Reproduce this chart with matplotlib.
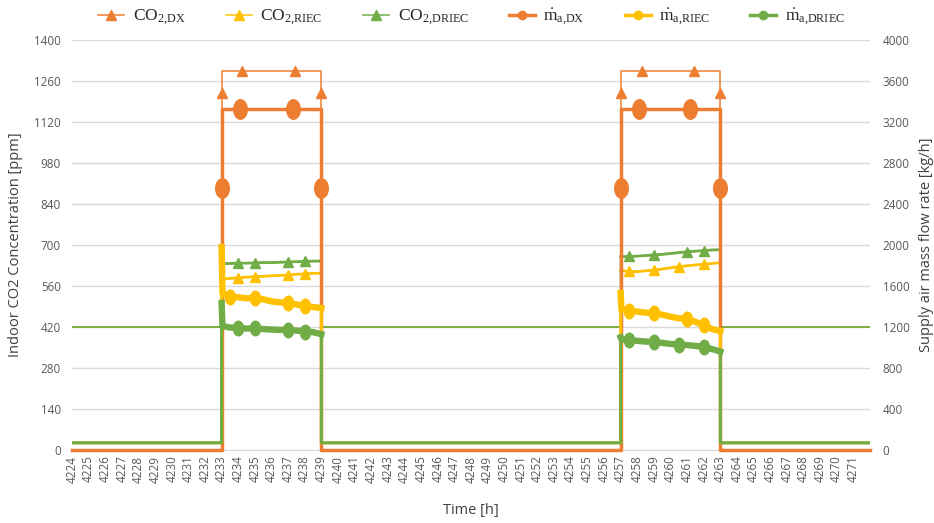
# Indoor CO2 concentration and supply air mass flow rate, DX vs RIEC vs DRIEC
import matplotlib.pyplot as plt
from matplotlib.lines import Line2D
from matplotlib.path import Path

plt.rcParams['font.family'] = ['Open Sans', 'DejaVu Sans']
plt.rcParams['mathtext.fontset'] = 'custom'
plt.rcParams['mathtext.rm'] = 'Liberation Serif'
plt.rcParams['mathtext.it'] = 'Liberation Serif:italic'
plt.rcParams['mathtext.bf'] = 'Liberation Serif:bold'

hours = list(range(4224, 4272))

# occupied periods, sampled every half hour (plus one point right after start-up)
occ1 = [4233.0, 4233.05, 4233.5, 4234.0, 4234.5, 4235.0, 4235.5, 4236.0,
        4236.5, 4237.0, 4237.5, 4238.0, 4238.5, 4239.0]
occ2 = [4257.0, 4257.05, 4257.5, 4258.0, 4258.5, 4259.0, 4259.5, 4260.0,
        4260.5, 4261.0, 4261.5, 4262.0, 4262.5, 4263.0]
time = [4224, 4233] + occ1 + [4239, 4257] + occ2 + [4263, 4272]

# CO2 [ppm]
co2_off = 420
co2_riec_1 = [584, 584, 586, 588, 590, 592, 593, 595, 596, 598, 600, 601, 603, 604]
co2_riec_2 = [612, 612, 610, 609, 612, 614, 618, 622, 626, 629, 632, 634, 637, 639]
co2_driec_1 = [636, 636, 637, 638, 638, 639, 640, 640, 641, 642, 643, 644, 645, 645]
co2_driec_2 = [660, 660, 661, 662, 664, 666, 668, 671, 674, 677, 679, 681, 683, 684]

# supply air mass flow [kg/h]
m_off = 70
m_riec_1 = [1980, 1530, 1495, 1490, 1480, 1483, 1470, 1450, 1440, 1434, 1420, 1405, 1395, 1385]
m_riec_2 = [1532, 1370, 1360, 1350, 1340, 1337, 1320, 1300, 1285, 1278, 1250, 1215, 1180, 1160]
m_driec_1 = [1434, 1210, 1195, 1190, 1185, 1188, 1180, 1175, 1172, 1170, 1165, 1155, 1150, 1130]
m_driec_2 = [1100, 1080, 1073, 1065, 1058, 1054, 1045, 1035, 1028, 1024, 1015, 1005, 985, 960]

# DX system: on/off with constant level
dx_time = [4224, 4233, 4233, 4233, 4234.1, 4237.3, 4239, 4239, 4239,
           4257, 4257, 4257, 4258.1, 4261.2, 4263, 4263, 4263, 4272]
co2_dx = [420, 420, 1220, 1295, 1295, 1295, 1295, 1220, 420,
          420, 1220, 1295, 1295, 1295, 1295, 1220, 420, 420]
dx_time_co2 = [4224, 4233, 4233, 4233, 4234.25, 4237.4, 4239, 4239, 4239,
               4257, 4257, 4257, 4258.3, 4261.4, 4263, 4263, 4263, 4272]
m_dx = [0, 0, 2560, 3330, 3330, 3330, 3330, 2560, 0,
        0, 2560, 3330, 3330, 3330, 3330, 2560, 0, 0]


def full(off, p1, p2):
    return [off, off] + p1 + [off, off] + p2 + [off, off]


co2_riec = full(co2_off, co2_riec_1, co2_riec_2)
co2_driec = full(co2_off, co2_driec_1, co2_driec_2)
m_riec = full(m_off, m_riec_1, m_riec_2)
m_driec = full(m_off, m_driec_1, m_driec_2)

orange = '#ED7D31'
yellow = '#FFC000'
green = '#70AD47'
grid = '#D9D9D9'
tick_c = '#595959'
label_c = '#404040'

ell = Path.unit_circle()
ellipse = Path(ell.vertices * [0.7, 1.0], ell.codes)

fig = plt.figure(figsize=(9.34, 5.23), dpi=100)
ax = fig.add_axes([72 / 934, 1 - 450 / 523, 798 / 934, 410 / 523])
ax2 = ax.twinx()

# occupied slices (indices into the full arrays)
s1 = slice(2, 16)
s2 = slice(18, 32)

# left axis: CO2
ax.plot(dx_time_co2, co2_dx, color=orange, lw=1.1, marker='^', ms=7,
        markevery=[2, 4, 5, 7, 10, 12, 13, 15])
for col, y, mk, lw in [(yellow, co2_riec, [5, 7, 11, 13, 20, 23, 26, 29], 0.9),
                       (green, co2_driec, [5, 7, 11, 13, 20, 23, 27, 29], 1.3)]:
    for s in (s1, s2):
        ax.plot(time[s], y[s], color=col, lw=2.0)
    ax.plot(time, y, color=col, lw=lw, marker='^', ms=7, markevery=mk)

# right axis: mass flow rate
ax2.plot(dx_time, m_dx, color=orange, lw=2.5, marker=ellipse, ms=14,
         markevery=[2, 4, 5, 7, 10, 12, 13, 15], clip_on=False)
for col, y, mk in [(yellow, m_riec, [4, 7, 11, 13, 20, 23, 27, 29]),
                   (green, m_driec, [5, 7, 11, 13, 20, 23, 26, 29])]:
    for s in (s1, s2):
        ax2.plot(time[s], y[s], color=col, lw=4.6)
    ax2.plot(time, y, color=col, lw=2.2, marker=ellipse, ms=10.5, markevery=mk)

ax.set_xlim(4224, 4272)
ax.set_ylim(0, 1400)
ax2.set_ylim(0, 4000)
ax.set_yticks(range(0, 1401, 140))
ax2.set_yticks(range(0, 4001, 400))
ax.set_xticks(hours)
ax.set_xticklabels([str(h) for h in hours], rotation=90)

ax.grid(axis='y', color=grid, lw=1.0)
ax.set_axisbelow(True)
for a in (ax, ax2):
    for sp in a.spines.values():
        sp.set_visible(False)
    a.tick_params(length=0, colors=tick_c, labelsize=8.4)
ax.spines['bottom'].set_visible(True)
ax.spines['bottom'].set_color(grid)
ax.tick_params(axis='y', pad=8)
ax2.tick_params(axis='y', pad=9)
ax.tick_params(axis='x', pad=4)

ax.set_ylabel('Indoor CO2 Concentration [ppm]', fontsize=10.5, color=label_c)
ax2.set_ylabel('Supply air mass flow rate [kg/h]', fontsize=10.5, color=label_c)
ax.set_xlabel('Time [h]', fontsize=10.5, color=label_c)
ax.yaxis.set_label_coords(-0.062, 0.5)
ax2.yaxis.set_label_coords(1.061, 0.5)
ax.xaxis.set_label_coords(0.5, -0.13)

handles = [
    Line2D([], [], color=orange, lw=1.1, marker='^', ms=7),
    Line2D([], [], color=yellow, lw=1.1, marker='^', ms=7),
    Line2D([], [], color=green, lw=1.1, marker='^', ms=7),
    Line2D([], [], color=orange, lw=2.5, marker='o', ms=6),
    Line2D([], [], color=yellow, lw=2.5, marker='o', ms=6),
    Line2D([], [], color=green, lw=2.5, marker='o', ms=6),
]
labels = [r'$\mathrm{CO}_{2{,}\mathrm{DX}}$', r'$\mathrm{CO}_{2{,}\mathrm{RIEC}}$',
          r'$\mathrm{CO}_{2{,}\mathrm{DRIEC}}$', r'$\dot{\mathrm{m}}_{\mathrm{a{,}DX}}$',
          r'$\dot{\mathrm{m}}_{\mathrm{a{,}RIEC}}$', r'$\dot{\mathrm{m}}_{\mathrm{a{,}DRIEC}}$']
leg = fig.legend(handles, labels, loc='center', bbox_to_anchor=(0.505, 1 - 17 / 523),
                 ncol=6, frameon=False, fontsize=12.5, handlelength=1.5,
                 columnspacing=2.3, handletextpad=0.5)
for t in leg.get_texts():
    t.set_color('#262626')

plt.savefig('out.png', dpi=100)
